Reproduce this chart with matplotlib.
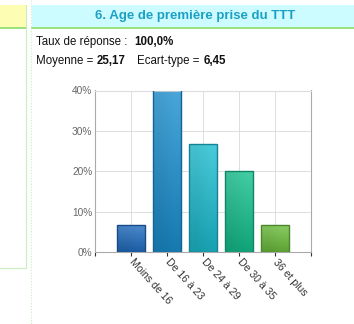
import numpy as np
import matplotlib.pyplot as plt
from matplotlib.colors import to_rgb
from matplotlib.lines import Line2D
from matplotlib.patches import Rectangle

plt.rcParams["font.family"] = ["Liberation Sans", "DejaVu Sans"]

categories = ["Moins de 16", "De 16 à 23", "De 24 à 29", "De 30 à 35", "36 et plus"]
percents = [6.67, 40.0, 26.67, 20.0, 6.67]
bar_colors = ["#1f6cc0", "#1a8fd0", "#1cbdd0", "#14c08e", "#6cbf3c"]
yticks = [0, 10, 20, 30, 40]

fig = plt.figure(figsize=(3.54, 3.24), dpi=100)
W, H = 354, 324

def fx(px):
    return px / W

def fy(py):
    return 1 - py / H

# page decorations: the two header boxes and panel borders
fig.patches.append(Rectangle((0, fy(27)), fx(26), fy(5) - fy(27), transform=fig.transFigure,
                             facecolor="#fdfdb4", edgecolor="none"))
fig.patches.append(Rectangle((fx(32), fy(27)), 1 - fx(32), fy(5) - fy(27), transform=fig.transFigure,
                             facecolor="#ccfcff", edgecolor="none"))
fig.lines.append(Line2D([0, fx(26)], [fy(27.5)] * 2, transform=fig.transFigure, color="#88dd66", lw=1.2))
fig.lines.append(Line2D([fx(32), 1], [fy(27.5)] * 2, transform=fig.transFigure, color="#88dd66", lw=1.2))
fig.lines.append(Line2D([fx(26), fx(26), 0], [fy(5), fy(268), fy(268)], transform=fig.transFigure,
                        color="#c8eec0", lw=0.8))
fig.lines.append(Line2D([fx(31), fx(31)], [1, 0], transform=fig.transFigure,
                        color="#c8eec0", lw=0.8, ls=(0, (1, 1.5))))

fig.text(fx(195), fy(16), "6. Age de première prise du TTT", ha="center", va="center",
         fontsize=9.5, fontweight="bold", color="#1ea0c6")

# summary lines: (x in px, baseline in px, text, bold)
summary = [
    (36, 45, "Taux de réponse :", False),
    (134, 45, "100,0%", True),
    (36, 64, "Moyenne =", False),
    (97, 64, "25,17", True),
    (137, 64, "Ecart-type =", False),
    (204, 64, "6,45", True),
]
for px, py, s, bold in summary:
    fig.text(fx(px), fy(py), s, ha="left", va="baseline", fontsize=8.3,
             fontweight="bold" if bold else "normal", color="#111111")

ax = fig.add_axes([fx(95), fy(252), fx(311) - fx(95), fy(90.5) - fy(252)])

x = np.arange(1, len(categories) + 1)
bw = 0.8
for xi, v, c in zip(x, percents, bar_colors):
    base = np.array(to_rgb(c))
    t = np.linspace(0, 1, 64)[:, None]
    light = base + (1 - base) * 0.2
    dark = base * 0.85
    grad = light * (1 - t) + dark * t
    img = grad[:, None, :].repeat(2, axis=1)
    img[:, 0] = img[:, 0] * 0.95
    ax.imshow(img, extent=(xi - bw / 2, xi + bw / 2, 0, v), aspect="auto", zorder=2,
              interpolation="bilinear")
    ax.bar(xi, v, width=bw, facecolor="none", edgecolor=tuple(base * 0.7), lw=1.0, zorder=3)

ax.set_xlim(0, 6)
ax.set_ylim(0, 40)
ax.set_yticks(yticks)
ax.set_yticklabels([f"{t}%" for t in yticks])
ax.set_xticks(np.arange(0, 7))
ax.set_xticklabels([""] + categories + [""], rotation=-48, rotation_mode="anchor",
                   ha="left", va="center")
ax.grid(True, color="#dddddd", lw=0.7, zorder=0)
ax.set_axisbelow(True)
ax.spines["top"].set_color("#dddddd")
ax.spines["right"].set_color("#aaaaaa")
ax.spines["left"].set_color("#aaaaaa")
ax.spines["bottom"].set_color("#aaaaaa")
ax.tick_params(axis="y", length=0, labelsize=7.3, labelcolor="#666666", pad=2)
ax.tick_params(axis="x", length=3, direction="out", color="#333333", labelsize=7.6,
               labelcolor="#333333", pad=3)

fig.savefig("out.png", dpi=100)
